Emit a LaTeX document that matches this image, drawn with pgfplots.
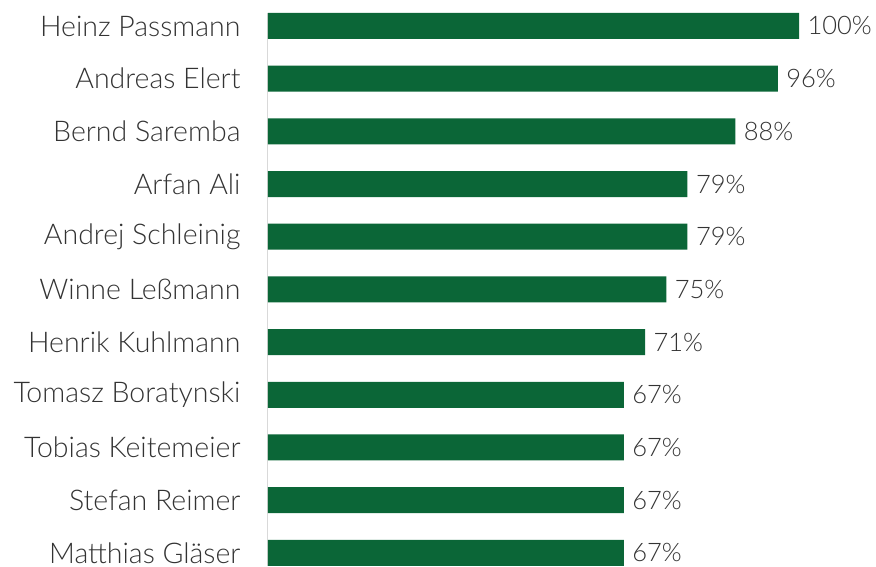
\documentclass[border=0pt]{standalone}
\usepackage{pgfplots}
\pgfplotsset{compat=1.18}
\usepackage{fontspec}
\setmainfont{Lato}[UprightFont={* Light}]
\definecolor{bargreen}{HTML}{0B6637}
\definecolor{txt}{HTML}{333333}
\definecolor{axgray}{HTML}{D9D9D9}
\begin{document}
\begin{tikzpicture}
\path[use as bounding box] (0,0) rectangle (876pt,567pt);
\begin{axis}[
  at={(268pt,1pt)}, anchor=south west,
  scale only axis,
  width=531pt, height=553.2pt,
  xmin=0, xmax=100,
  ymin=-0.25, ymax=10.25,
  y dir=reverse,
  xbar, bar width=26pt,
  axis x line=none,
  axis y line*=left,
  y axis line style={draw=axgray, line width=1pt},
  ytick={0,...,10},
  yticklabels={Heinz Passmann,Andreas Elert,Bernd Saremba,Arfan Ali,Andrej Schleinig,Winne Leßmann,Henrik Kuhlmann,Tomasz Boratynski,Tobias Keitemeier,Stefan Reimer,Matthias Gläser},
  major tick length=0pt,
  yticklabel style={font=\fontsize{28.5}{32}\selectfont, text=txt, xshift=-24pt},
  /pgf/number format/assume math mode=true,
  nodes near coords={\pgfmathprintnumber{\pgfplotspointmeta}\%},
  nodes near coords style={font=\fontsize{25.5}{30}\selectfont, text=txt, anchor=west, xshift=5pt},
  point meta=x,
  clip=false,
]
\addplot[draw=none, fill=bargreen] coordinates {
(100,0) (96,1) (88,2) (79,3) (79,4) (75,5) (71,6) (67,7) (67,8) (67,9) (67,10)};
\end{axis}
\end{tikzpicture}
\end{document}
